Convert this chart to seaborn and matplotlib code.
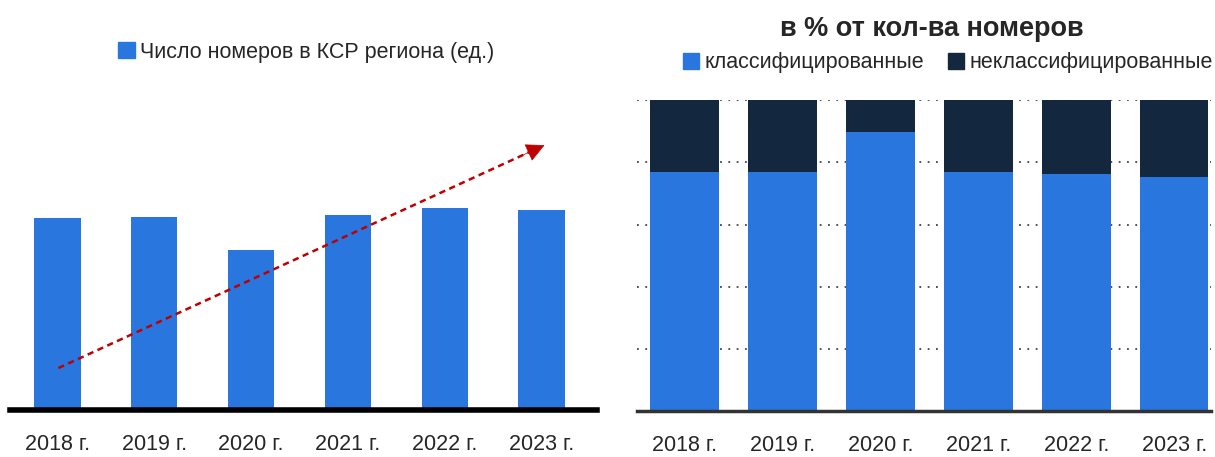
import seaborn as sns
import pandas as pd
import matplotlib.pyplot as plt
from matplotlib.patches import Patch

# data
years = ['2018 г.', '2019 г.', '2020 г.', '2021 г.', '2022 г.', '2023 г.']
rooms = [192, 193, 160, 195, 202, 200]          # число номеров (оценка по высоте)
classified = [76.8, 76.8, 89.7, 76.8, 76.2, 75.2]  # % классифицированных
total = [100, 100, 100, 100, 100, 100]

blue = '#2976DE'
navy = '#13283F'
red = '#C00000'

sns.set_style('white')
plt.rcParams['font.family'] = ['Liberation Sans', 'DejaVu Sans']

df = pd.DataFrame({'year': years, 'rooms': rooms, 'cls': classified, 'total': total})

fig = plt.figure(figsize=(12.15, 4.57), dpi=100)
ax1 = fig.add_axes([0.0082, 0.1028, 0.483, 0.678])
ax2 = fig.add_axes([0.524, 0.1007, 0.473, 0.680])

# left chart
sns.barplot(data=df, x='year', y='rooms', color=blue, width=0.48, saturation=1,
            linewidth=0, ax=ax1)
ax1.set_ylim(0, 310)
ax1.set_xlim(-0.49, 5.57)
ax1.set_xlabel('')
ax1.set_ylabel('')
ax1.set_yticks([])
for s in ['top', 'right', 'left']:
    ax1.spines[s].set_visible(False)
ax1.spines['bottom'].set_linewidth(4)
ax1.spines['bottom'].set_color('black')
ax1.tick_params(axis='x', length=0, pad=17, labelsize=15.5)

# trend arrow: dashed shaft + solid head
x0, y0, x1, y1 = 0.01, 42, 5.03, 265
ax1.plot([x0, x0 + (x1 - x0) * 0.97], [y0, y0 + (y1 - y0) * 0.97],
         color=red, lw=1.8, linestyle=(0, (2.5, 1.8)))
ax1.annotate('', xy=(x1, y1), xytext=(x0 + (x1 - x0) * 0.95, y0 + (y1 - y0) * 0.95),
             arrowprops=dict(arrowstyle='-|>,head_length=1.2,head_width=0.6',
                             color=red, lw=0.5, shrinkA=0, shrinkB=0))
ax1.legend(handles=[Patch(color=blue, label='Число номеров в КСР региона (ед.)')],
           loc='center', bbox_to_anchor=(0.505, 1.155), frameon=False, fontsize=15.5,
           handlelength=0.75, handleheight=0.75, handletextpad=0.25, borderaxespad=0)

# right chart
sns.barplot(data=df, x='year', y='total', color=navy, width=0.7, saturation=1,
            linewidth=0, ax=ax2)
sns.barplot(data=df, x='year', y='cls', color=blue, width=0.7, saturation=1,
            linewidth=0, ax=ax2)
ax2.set_ylim(0, 100)
ax2.set_xlim(-0.49, 5.38)
ax2.set_yticks([0, 20, 40, 60, 80, 100])
ax2.set_yticklabels([])
ax2.set_xlabel('')
ax2.set_ylabel('')
ax2.yaxis.grid(True, linestyle=(0, (1, 3.6)), color='#444444', linewidth=1.3)
ax2.set_axisbelow(True)
for s in ['top', 'right', 'left']:
    ax2.spines[s].set_visible(False)
ax2.spines['bottom'].set_linewidth(2.5)
ax2.spines['bottom'].set_color('#333333')
ax2.tick_params(axis='x', length=0, pad=17, labelsize=15.5)
ax2.tick_params(axis='y', length=0)
ax2.set_title('в % от кол-ва номеров', fontsize=19.5, fontweight='bold', pad=46, x=0.514)
ax2.legend(handles=[Patch(color=blue, label='классифицированные'),
                    Patch(color=navy, label='неклассифицированные')],
           loc='center', bbox_to_anchor=(0.542, 1.12), ncol=2, frameon=False, fontsize=15.5,
           handlelength=0.75, handleheight=0.75, handletextpad=0.25, columnspacing=1.1,
           borderaxespad=0)

fig.savefig('out.png', dpi=100)
